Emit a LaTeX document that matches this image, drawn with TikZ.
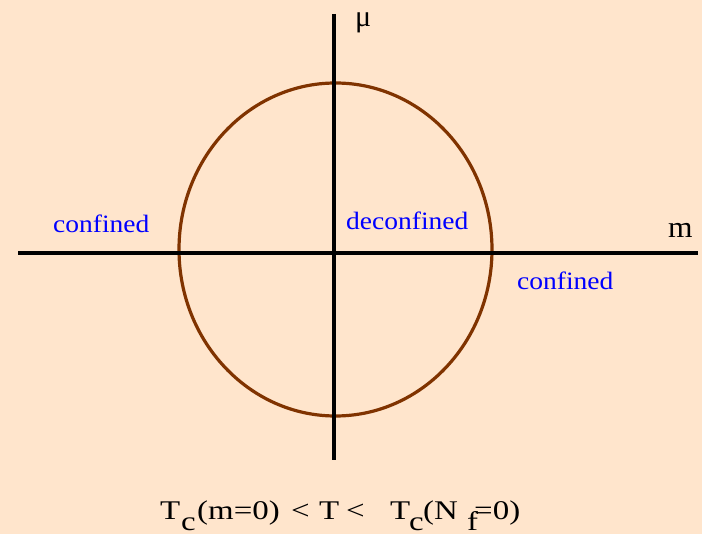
\documentclass[tikz,border=0pt]{standalone}
\usepackage{graphicx}
\usepackage{fontspec}
\setmainfont{Liberation Serif}
\definecolor{bgpeach}{RGB}{255,229,204}
\definecolor{ringbrown}{RGB}{128,51,0}
\newcommand\sxb[1]{\scalebox{1.1}[1]{#1}}
\newcommand\sxe[1]{\scalebox{1.22}[1]{#1}}
\begin{document}
\begin{tikzpicture}[x=1pt,y=-1pt,
  axis/.style={line width=4pt,black},
  lbl/.style={anchor=base west,inner sep=0pt,text=blue,font=\fontsize{25}{30}\selectfont},
  axlbl/.style={anchor=base west,inner sep=0pt,font=\fontsize{30}{34}\selectfont},
  eqtxt/.style={anchor=base west,inner sep=0pt,font=\fontsize{27}{30}\selectfont}]
\fill[bgpeach] (0,0) rectangle (702,534);
\useasboundingbox (0,0) rectangle (702,534);
\coordinate (hl) at (18,253);
\coordinate (hr) at (698,253);
\coordinate (vt) at (334,14);
\coordinate (vb) at (334,460);
\draw[ringbrown,line width=3.2pt] (335.5,249.5) ellipse [x radius=156.5,y radius=166.5];
\draw[axis] (hl) -- (hr);
\draw[axis,line width=3.5pt] (vt) -- (vb);
\node[axlbl] (mu) at (355,27) {μ};
\node[axlbl] (m) at (668,238) {\scalebox{1.05}[1]{m}};
\node[lbl] (c1) at (53,233) {\sxb{confined}};
\node[lbl] (dc) at (346,230) {\sxb{deconfined}};
\node[lbl] (c2) at (517,290) {\sxb{confined}};
% bottom formula
\node[eqtxt] (t1) at (160,519) {\sxe{T}};
\node[eqtxt] (s1) at (181,531) {\sxe{c}};
\node[eqtxt] (p1) at (197,519) {\sxe{(m=0)}};
\node[eqtxt] (l1) at (291,519) {\sxe{<}};
\node[eqtxt] (t2) at (319,519) {\sxe{T}};
\node[eqtxt] (l2) at (346,519) {\sxe{<}};
\node[eqtxt] (t3) at (390,519) {\sxe{T}};
\node[eqtxt] (s2) at (409,531) {\sxe{c}};
\node[eqtxt] (p2) at (423,519) {\sxe{(N}};
\node[eqtxt] (s3) at (467,531) {\sxe{f}};
\node[eqtxt] (p3) at (474,519) {\sxe{=0)}};
\end{tikzpicture}
\end{document}
